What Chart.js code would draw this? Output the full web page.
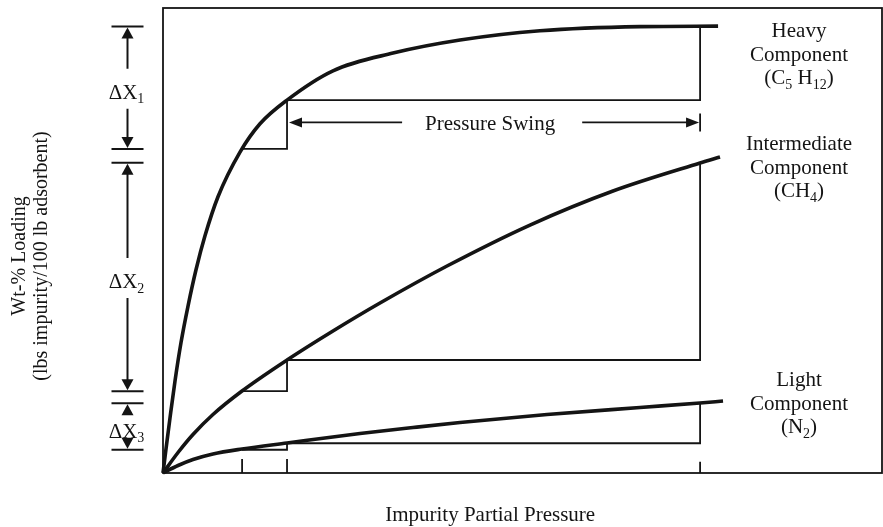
<!DOCTYPE html>
<html>
<head>
<meta charset="utf-8">
<script src="https://cdn.jsdelivr.net/npm/chart.js@4.4.1/dist/chart.umd.min.js"></script>
<style>
    html, body { margin: 0; padding: 0; background: #fff; }
    canvas { display: block; }
</style>
</head>
<body>
<canvas id="isotherms" width="883" height="527"></canvas>
<script>
// Isotherm curves: impurity partial pressure (0-100) against wt-% loading (0-100)
const heavyPressure = [0, 0.42, 0.97, 1.67, 2.5, 3.48, 4.59, 5.84, 7.65, 10.71, 13.49, 17.25, 23.64, 31.99, 41.31, 52.43, 66.34, 77.2];
const heavyLoading  = [0, 5.2, 11.8, 19.8, 28.0, 35.9, 43.7, 51.0, 59.4, 69.0, 75.1, 80.2, 86.5, 90.3, 93.1, 95.1, 96.0, 96.1];

const intermediatePressure = [0, 2.09, 4.17, 6.95, 10.99, 17.25, 23.64, 30.18, 39.5, 51.04, 62.59, 74.69, 77.47];
const intermediateLoading  = [0, 4.41, 8.28, 12.58, 17.63, 24.3, 30.54, 36.56, 44.52, 53.33, 60.65, 66.67, 67.96];

const lightPressure = [0, 2.09, 4.17, 6.95, 10.99, 17.25, 27.4, 34.77, 41.31, 53.41, 66.34, 74.69, 77.89];
const lightLoading  = [0, 1.61, 2.9, 4.09, 5.16, 6.45, 8.49, 9.78, 10.86, 12.58, 14.09, 15.05, 15.48];

// Pressure swing: desorption start, step corner, adsorption pressure
const swingPressures = [11.0, 17.25, 74.7];
// Loadings at those pressures for each component
const heavySwing        = [69.7, 80.2, 96.0];
const intermediateSwing = [17.6, 24.3, 66.7];
const lightSwing        = [5.0, 6.4, 15.0];

const tickHeights = [3.0, 3.0, 2.4];

const INK = '#141414';
const SERIF = '"Liberation Serif", "Times New Roman", serif';

const toPoints = ( xs, ys ) => xs.map( ( x, i ) => ({ x, y: ys[i] }) );

const stepPath = loads => {
    const [ p0, p1, p2 ] = swingPressures;
    return [
        { x: p0, y: loads[0] }, { x: p1, y: loads[0] },
        { x: p1, y: loads[1] }, { x: p2, y: loads[1] },
        { x: p2, y: loads[2] }
    ];
};

const curve = ( xs, ys ) => ({
    data: toPoints( xs, ys ),
    borderColor: INK,
    borderWidth: 3.6,
    cubicInterpolationMode: 'monotone',
    pointRadius: 0,
    clip: false
});

const thin = data => ({
    data,
    borderColor: INK,
    borderWidth: 1.8,
    tension: 0,
    pointRadius: 0,
    clip: false
});

// text with subscripted runs, centred on cx
function richText( ctx, parts, cx, baseline, size ) {
    const subSize = Math.round( size * 0.68 );
    const fontFor = sub => `${ sub ? subSize : size }px ${ SERIF }`;
    let width = 0;
    parts.forEach( ([ t, sub ]) => { ctx.font = fontFor( sub ); width += ctx.measureText( t ).width; });
    let x = cx - width / 2;
    ctx.textAlign = 'left';
    ctx.textBaseline = 'alphabetic';
    parts.forEach( ([ t, sub ]) => {
        ctx.font = fontFor( sub );
        ctx.fillText( t, x, baseline + ( sub ? size * 0.22 : 0 ) );
        x += ctx.measureText( t ).width;
    });
}

function arrowHead( ctx, x, y, angle, len, half ) {
    ctx.save();
    ctx.translate( x, y );
    ctx.rotate( angle );
    ctx.beginPath();
    ctx.moveTo( 0, 0 );
    ctx.lineTo( -len, -half );
    ctx.lineTo( -len, half );
    ctx.closePath();
    ctx.fill();
    ctx.restore();
}

function line( ctx, x1, y1, x2, y2 ) {
    ctx.beginPath();
    ctx.moveTo( x1, y1 );
    ctx.lineTo( x2, y2 );
    ctx.stroke();
}

const framePlugin = {
    id: 'frame',
    afterDatasetsDraw( chart ) {
        const { ctx, chartArea: a } = chart;
        ctx.save();
        ctx.strokeStyle = INK;
        ctx.lineWidth = 1.8;
        ctx.strokeRect( a.left, a.top, a.right - a.left, a.bottom - a.top );
        ctx.restore();
    }
};

const notesPlugin = {
    id: 'notes',
    afterDraw( chart ) {
        const { ctx } = chart;
        const xs = chart.scales.x, ys = chart.scales.y;
        const size = 21;
        ctx.save();
        ctx.fillStyle = INK;
        ctx.strokeStyle = INK;
        ctx.lineWidth = 1.8;

        // Pressure swing arrow
        const pLeft = xs.getPixelForValue( swingPressures[1] );
        const pRight = xs.getPixelForValue( swingPressures[2] );
        const ay = ys.getPixelForValue( 75.4 );
        const midX = xs.getPixelForValue( 45.5 );
        ctx.font = `${ size }px ${ SERIF }`;
        const tw = ctx.measureText( 'Pressure Swing' ).width;
        ctx.textAlign = 'center';
        ctx.textBaseline = 'alphabetic';
        ctx.fillText( 'Pressure Swing', midX, ay + 7.5 );
        line( ctx, pLeft + 8, ay, midX - tw / 2 - 23, ay );
        arrowHead( ctx, pLeft + 2, ay, Math.PI, 13, 5 );
        line( ctx, midX + tw / 2 + 27, ay, pRight - 8, ay );
        arrowHead( ctx, pRight - 1, ay, 0, 13, 5 );
        line( ctx, pRight, ay - 9, pRight, ay + 9 );

        // Delta-X brackets left of the frame
        const bx = 127.5;
        [ heavySwing, intermediateSwing, lightSwing ].forEach( ( s, i ) => {
            const top = ys.getPixelForValue( s[2] );
            const bot = ys.getPixelForValue( s[0] );
            const mid = ( top + bot ) / 2;
            ctx.lineWidth = 2;
            line( ctx, bx - 16, top, bx + 16, top );
            line( ctx, bx - 16, bot, bx + 16, bot );
            arrowHead( ctx, bx, top + 1, -Math.PI / 2, 11, 6 );
            arrowHead( ctx, bx, bot - 1, Math.PI / 2, 11, 6 );
            if ( mid - top > 32 ) {
                line( ctx, bx, top + 10, bx, mid - 19 );
                line( ctx, bx, mid + 21, bx, bot - 10 );
            }
            richText( ctx, [ [ '\u0394X' ], [ String( i + 1 ), true ] ], bx - 1, mid + 11, size );
        });

        // Component labels right of the curves
        const labels = [
            [ [ [ 'Heavy' ] ], [ [ 'Component' ] ], [ [ '(C' ], [ '5', true ], [ ' H' ], [ '12', true ], [ ')' ] ] ],
            [ [ [ 'Intermediate' ] ], [ [ 'Component' ] ], [ [ '(CH' ], [ '4', true ], [ ')' ] ] ],
            [ [ [ 'Light' ] ], [ [ 'Component' ] ], [ [ '(N' ], [ '2', true ], [ ')' ] ] ]
        ];
        const firstBaselines = [ 37, 150, 386 ];
        labels.forEach( ( block, i ) => {
            block.forEach( ( parts, j ) => richText( ctx, parts, 799, firstBaselines[i] + j * 23.5, size ) );
        });

        // Axis titles
        ctx.font = `${ size }px ${ SERIF }`;
        ctx.textAlign = 'center';
        ctx.textBaseline = 'alphabetic';
        ctx.fillText( 'Impurity Partial Pressure', midX, 521 );

        ctx.translate( 0, 256 );
        ctx.rotate( -Math.PI / 2 );
        ctx.font = `20px ${ SERIF }`;
        ctx.textBaseline = 'middle';
        ctx.fillText( 'Wt-% Loading', 0, 20 );
        ctx.fillText( '(lbs impurity/100 lb adsorbent)', 0, 42 );
        ctx.restore();
    }
};

new Chart( document.getElementById( 'isotherms' ), {
    type: 'line',
    data: {
        datasets: [
            curve( heavyPressure, heavyLoading ),
            curve( intermediatePressure, intermediateLoading ),
            curve( lightPressure, lightLoading ),
            thin( stepPath( heavySwing ) ),
            thin( stepPath( intermediateSwing ) ),
            thin( stepPath( lightSwing ) ),
            ...swingPressures.map( ( p, i ) => thin( [ { x: p, y: 0 }, { x: p, y: tickHeights[i] } ] ) )
        ]
    },
    options: {
        responsive: false,
        animation: false,
        devicePixelRatio: 1,
        layout: { padding: { left: 163, right: 1, top: 8, bottom: 54 } },
        scales: {
            x: { type: 'linear', min: 0, max: 100, display: false },
            y: { type: 'linear', min: 0, max: 100, display: false }
        },
        plugins: {
            legend: { display: false },
            tooltip: { enabled: false }
        }
    },
    plugins: [ framePlugin, notesPlugin ]
});
</script>
</body>
</html>
